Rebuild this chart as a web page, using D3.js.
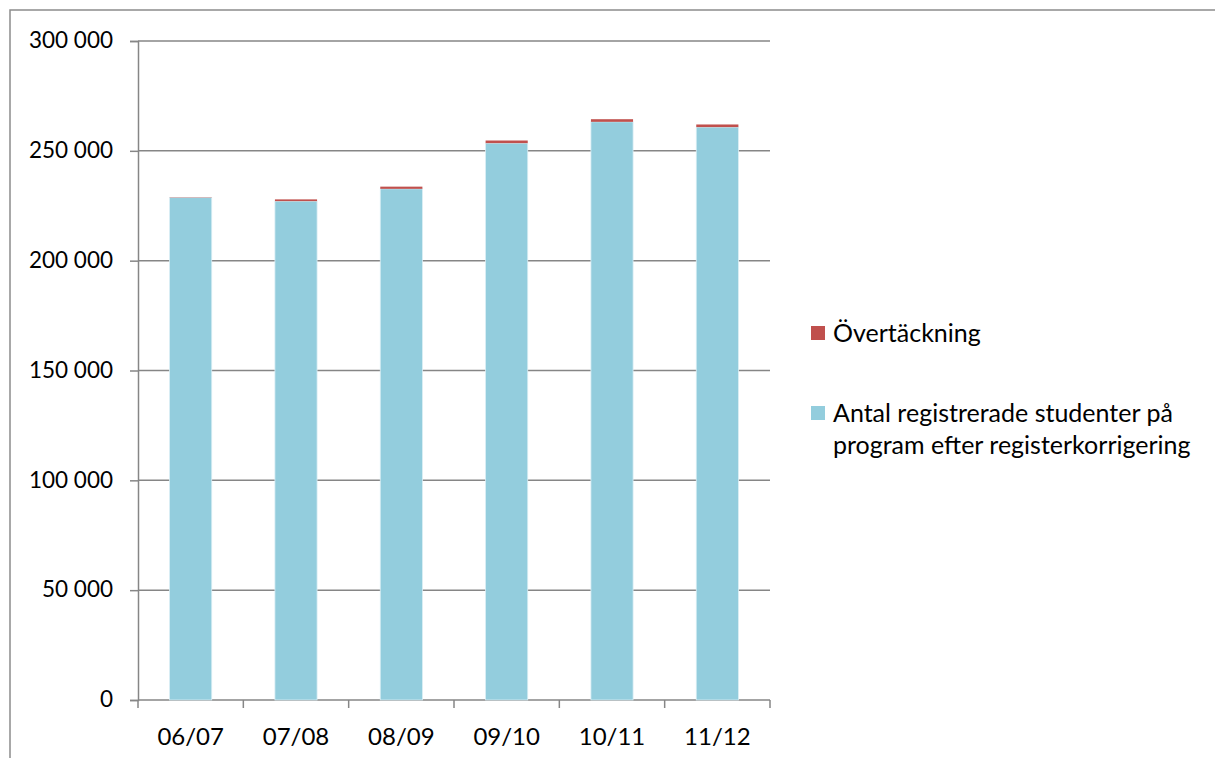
<!DOCTYPE html>
<html>
<head>
<meta charset="utf-8">
<script src="https://cdn.jsdelivr.net/npm/d3@7"></script>
<style>
  body { margin: 0; background: #fff; }
  svg text { font-family: Lato, "Open Sans", sans-serif; fill: #000; }
</style>
</head>
<body>
<svg id="chart" width="1215" height="758"></svg>
<script>
// Data
var categories = ["06/07", "07/08", "08/09", "09/10", "10/11", "11/12"];
var registered = [228700, 227100, 232700, 253500, 263200, 260800];
var overlap = [150, 800, 1000, 1200, 1200, 1200];
var seriesNames = ["Övertäckning", "Antal registrerade studenter på|program efter registerkorrigering"];
var yTicks = [0, 50000, 100000, 150000, 200000, 250000, 300000];

(function() {
  "use strict";

  var svg = d3.select("#chart");

  // outer frame (runs off the right and bottom edges)
  svg.append("rect")
      .attr("x", 10).attr("y", 10)
      .attr("width", 1220).attr("height", 760)
      .attr("fill", "none")
      .attr("stroke", "#8c8c8c")
      .attr("stroke-width", 1.5);

  var plot = {left: 138, right: 770, top: 41, bottom: 700};

  var x = d3.scaleBand().domain(categories).range([plot.left, plot.right]).paddingInner(0.6).paddingOuter(0.3);
  var band = d3.scaleBand().domain(categories).range([plot.left, plot.right]);
  var y = d3.scaleLinear().domain([0, 300000]).range([plot.bottom, plot.top]);

  var fmt = function(d) { return d3.format(",")(d).replace(/,/g, " "); };

  // gridlines
  svg.append("g").selectAll("line")
    .data(yTicks.filter(function(d) { return d > 0; }))
    .enter().append("line")
      .attr("x1", plot.left).attr("x2", plot.right)
      .attr("y1", function(d) { return y(d); })
      .attr("y2", function(d) { return y(d); })
      .attr("stroke", "#868686")
      .attr("stroke-width", 1.5);

  // y axis
  var yAxis = svg.append("g")
      .attr("transform", "translate(" + plot.left + ",0)")
      .call(d3.axisLeft(y).tickValues(yTicks).tickFormat(fmt).tickSize(8).tickPadding(17));
  yAxis.select(".domain").attr("stroke", "#868686").attr("stroke-width", 1.5);
  yAxis.selectAll(".tick line").attr("stroke", "#868686").attr("stroke-width", 1.5);
  yAxis.selectAll("text").attr("font-size", 22.5).attr("dy", "0.3em");

  // x axis: ticks at band boundaries
  var xg = svg.append("g").attr("transform", "translate(0," + plot.bottom + ")");
  xg.append("line").attr("x1", plot.left).attr("x2", plot.right).attr("stroke", "#868686").attr("stroke-width", 1.5);
  xg.selectAll(".bnd")
    .data(categories.concat(["end"]))
    .enter().append("line")
      .attr("class", "bnd")
      .attr("x1", function(d, i) { return i < categories.length ? band(d) : plot.right; })
      .attr("x2", function(d, i) { return i < categories.length ? band(d) : plot.right; })
      .attr("y1", 0).attr("y2", 8)
      .attr("stroke", "#868686").attr("stroke-width", 1.5);
  xg.selectAll(".lbl")
    .data(categories)
    .enter().append("text")
      .attr("class", "lbl")
      .attr("x", function(d) { return band(d) + band.bandwidth() / 2; })
      .attr("y", 45)
      .attr("text-anchor", "middle")
      .attr("font-size", 24)
      .text(function(d) { return d; });

  // stacked bars
  var rows = categories.map(function(c, i) {
    return {cat: c, reg: registered[i], over: overlap[i]};
  });
  var bars = svg.append("g");
  bars.selectAll(".reg")
    .data(rows)
    .enter().append("rect")
      .attr("class", "reg")
      .attr("x", function(d) { return x(d.cat); })
      .attr("width", x.bandwidth())
      .attr("y", function(d) { return y(d.reg); })
      .attr("height", function(d) { return y(0) - y(d.reg); })
      .attr("fill", "#93cddd")
      .attr("stroke", "#d9eef4").attr("stroke-width", 0.8);
  bars.selectAll(".over")
    .data(rows)
    .enter().append("rect")
      .attr("class", "over")
      .attr("x", function(d) { return x(d.cat); })
      .attr("width", x.bandwidth())
      .attr("y", function(d) { return y(d.reg + d.over); })
      .attr("height", function(d) { return y(d.reg) - y(d.reg + d.over); })
      .attr("fill", "#c0504d");

  // legend
  var legend = svg.append("g");
  var colors = ["#c0504d", "#93cddd"];
  var legY = [333, 413];
  seriesNames.forEach(function(name, i) {
    legend.append("rect")
        .attr("x", 811).attr("y", legY[i] - 7)
        .attr("width", 14).attr("height", 14)
        .attr("fill", colors[i]);
    var t = legend.append("text")
        .attr("x", 833).attr("y", legY[i])
        .attr("font-size", 25);
    name.split("|").forEach(function(part, j) {
      t.append("tspan").attr("x", 833).attr("dy", j === 0 ? "0.34em" : "1.3em").text(part);
    });
  });
})();
</script>
</body>
</html>
